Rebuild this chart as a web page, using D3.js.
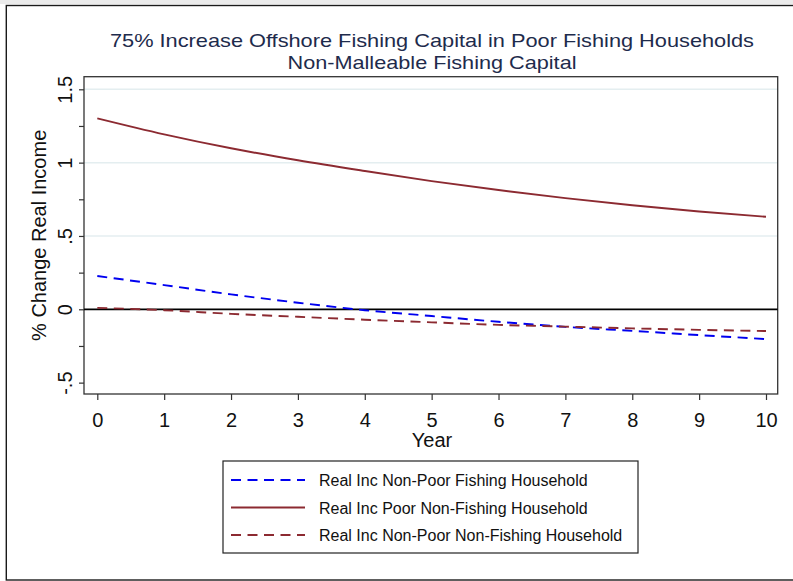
<!DOCTYPE html>
<html>
<head>
<meta charset="utf-8">
<script src="https://cdn.jsdelivr.net/npm/d3@7"></script>
<style>
  body { margin: 0; background: #fff; }
  svg { display: block; }
  text { font-family: "Liberation Sans", Arial, sans-serif; }
</style>
</head>
<body>
<svg id="chart" width="793" height="581"></svg>
<script>
// Simulated % change in real income by household type
const years = [0, 1, 2, 3, 4, 5, 6, 7, 8, 9, 10];
const nonPoorFishing    = [0.227, 0.165, 0.102, 0.045, -0.006, -0.046, -0.085, -0.120, -0.147, -0.176, -0.203];
const poorNonFishing    = [1.302, 1.193, 1.098, 1.016, 0.943, 0.874, 0.813, 0.758, 0.709, 0.667, 0.631];
const nonPoorNonFishing = [0.010, -0.006, -0.031, -0.051, -0.071, -0.089, -0.106, -0.118, -0.130, -0.140, -0.148];

const yTicks = [-0.5, 0, 0.5, 1, 1.5];
const yTickLabels = ["-.5", "0", ".5", "1", "1.5"];
const yMinorTicks = [-0.25, 0.25, 0.75, 1.25];
const yGridTicks = [0.5, 1, 1.5];
const xTicks = [0, 1, 2, 3, 4, 5, 6, 7, 8, 9, 10];

const titleLines = [
  "75% Increase Offshore Fishing Capital in Poor Fishing Households",
  "Non-Malleable Fishing Capital"
];
const titleWidths = [644, 289];
const xTitle = "Year";
const yTitle = "% Change Real Income";
const seriesNames = [
  "Real Inc Non-Poor Fishing Household",
  "Real Inc Poor Non-Fishing Household",
  "Real Inc Non-Poor Non-Fishing Household"
];

const svg = d3.select("#chart");
const W = 793, H = 581;

// plot region
const plot = { left: 84, right: 777.7, top: 76.7, bottom: 394 };
const x = d3.scaleLinear().domain([0, 10]).range([97.3, 766]);
const y = d3.scaleLinear().domain([0, 1.5]).range([309.3, 89.3]);

// page background, top strip and outer frame
svg.append("rect").attr("width", W).attr("height", H).attr("fill", "#fff");
svg.append("rect").attr("x", 0).attr("y", 0).attr("width", W).attr("height", 4).attr("fill", "#ebebeb");
svg.append("rect")
  .attr("x", 6.3).attr("y", 5.5).attr("width", 800).attr("height", 574.5)
  .attr("fill", "none").attr("stroke", "#1a1a1a").attr("stroke-width", 1.4);

// title (two lines, stretched to the same extent as the plot heading)
svg.append("g").selectAll("text").data(titleLines).join("text")
  .attr("x", 432).attr("y", (d, i) => 46.5 + i * 22)
  .attr("text-anchor", "middle")
  .attr("font-size", 18.5)
  .attr("textLength", (d, i) => titleWidths[i])
  .attr("lengthAdjust", "spacingAndGlyphs")
  .attr("fill", "#1e2b4c")
  .text(d => d);

// gridlines
svg.append("g").selectAll("line").data(yGridTicks).join("line")
  .attr("x1", plot.left).attr("x2", plot.right)
  .attr("y1", d => y(d)).attr("y2", d => y(d))
  .attr("stroke", "#e4eef0").attr("stroke-width", 1.5);

// plot frame
svg.append("rect")
  .attr("x", plot.left).attr("y", plot.top)
  .attr("width", plot.right - plot.left).attr("height", plot.bottom - plot.top)
  .attr("fill", "none").attr("stroke", "#333").attr("stroke-width", 1.3);

// y axis
const yAxis = svg.append("g").attr("transform", `translate(${plot.left},0)`)
  .call(d3.axisLeft(y).tickValues(yTicks).tickFormat((d, i) => yTickLabels[i]).tickSize(5).tickSizeOuter(0));
yAxis.select(".domain").remove();
yAxis.selectAll("line").attr("stroke", "#333").attr("stroke-width", 1.2);
yAxis.selectAll("text")
  .attr("transform", "rotate(-90)")
  .attr("x", 0).attr("y", -12).attr("dy", 0)
  .attr("text-anchor", "middle")
  .attr("font-size", 20)
  .attr("fill", "#111");
svg.append("g").attr("transform", `translate(${plot.left},0)`)
  .call(d3.axisLeft(y).tickValues(yMinorTicks).tickFormat("").tickSize(5).tickSizeOuter(0))
  .call(g => g.select(".domain").remove())
  .call(g => g.selectAll("line").attr("stroke", "#333").attr("stroke-width", 1.2));

// x axis
const xAxis = svg.append("g").attr("transform", `translate(0,${plot.bottom})`)
  .call(d3.axisBottom(x).tickValues(xTicks).tickFormat(d3.format("d")).tickSize(6).tickSizeOuter(0));
xAxis.select(".domain").remove();
xAxis.selectAll("line").attr("stroke", "#333").attr("stroke-width", 1.2);
xAxis.selectAll("text")
  .attr("y", 0).attr("dy", 0)
  .attr("transform", "translate(0,33)")
  .attr("font-size", 20)
  .attr("fill", "#111");

// axis titles
svg.append("text")
  .attr("x", 432).attr("y", 447)
  .attr("text-anchor", "middle").attr("font-size", 20).attr("fill", "#111")
  .text(xTitle);
svg.append("text")
  .attr("transform", `translate(46,${(plot.top + plot.bottom) / 2}) rotate(-90)`)
  .attr("text-anchor", "middle").attr("font-size", 20).attr("fill", "#111")
  .text(yTitle);

// zero reference line
svg.append("line")
  .attr("x1", plot.left).attr("x2", plot.right)
  .attr("y1", y(0)).attr("y2", y(0))
  .attr("stroke", "#000").attr("stroke-width", 1.8);

// series
const series = [
  { name: seriesNames[0], values: nonPoorFishing,    color: "#0000f0", dash: "10,6.5" },
  { name: seriesNames[1], values: poorNonFishing,    color: "#8c2a31", dash: null },
  { name: seriesNames[2], values: nonPoorNonFishing, color: "#8c2a31", dash: "10,6.5" }
];
const line = d3.line().x((d, i) => x(years[i])).y(d => y(d)).curve(d3.curveMonotoneX);

svg.append("g").selectAll("path").data(series).join("path")
  .attr("d", d => line(d.values))
  .attr("fill", "none")
  .attr("stroke", d => d.color)
  .attr("stroke-width", 1.9)
  .attr("stroke-dasharray", d => d.dash);

// legend
const legend = svg.append("g");
legend.append("rect")
  .attr("x", 223).attr("y", 461).attr("width", 415).attr("height", 92)
  .attr("fill", "#fff").attr("stroke", "#222").attr("stroke-width", 1.2);
const rows = legend.selectAll("g.row").data(series).join("g")
  .attr("class", "row")
  .attr("transform", (d, i) => `translate(0,${480 + i * 27.5})`);
rows.append("line")
  .attr("x1", 231).attr("x2", 305).attr("y1", 0).attr("y2", 0)
  .attr("stroke", d => d.color).attr("stroke-width", 1.9)
  .attr("stroke-dasharray", d => d.dash);
rows.append("text")
  .attr("x", 319).attr("y", 6)
  .attr("font-size", 16).attr("fill", "#111")
  .text(d => d.name);
</script>
</body>
</html>
